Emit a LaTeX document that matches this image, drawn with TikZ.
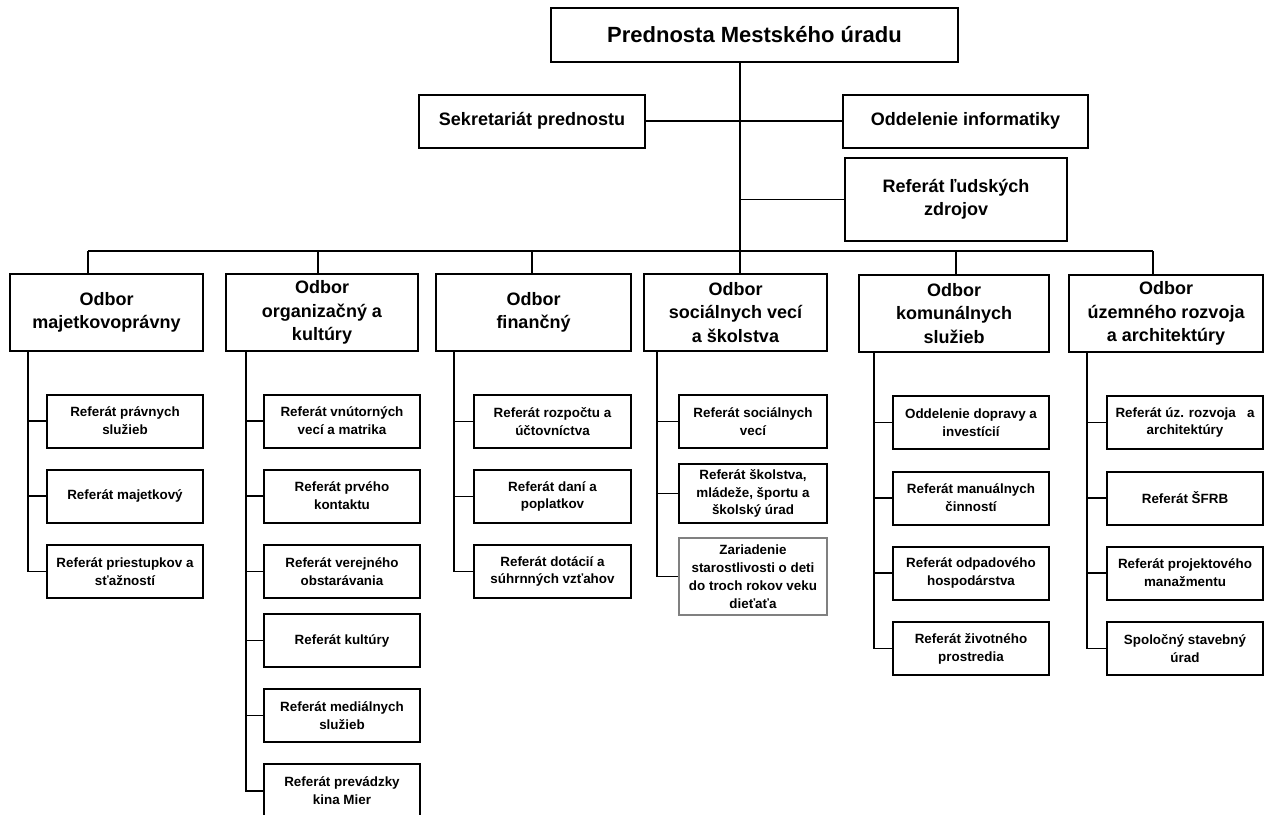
\documentclass[tikz,border=0pt]{standalone}
\usepackage{fontspec}
\setmainfont{Liberation Sans}
\tikzset{
  uzol/.style={draw, line width=1pt, align=center, inner sep=1pt},
  rozmer/.style 2 args={minimum width=#1*0.5pt, minimum height=#2*0.5pt},
  hlavny/.style={uzol, font=\bfseries\fontsize{11}{13}\selectfont},
  stredny/.style={uzol, font=\bfseries\fontsize{9}{11.7}\selectfont},
  odbor/.style={uzol, font=\bfseries\fontsize{9}{11.6}\selectfont},
  referat/.style={uzol, font=\bfseries\fontsize{6.7}{8.9}\selectfont},
  spoj/.style={line width=0.6pt}
}
\begin{document}
\begin{tikzpicture}[x=0.5pt,y=-0.5pt]
\useasboundingbox (0,0) rectangle (1268,814);
% vedenie
\node[hlavny, rozmer={407}{54}] (prednosta) at (754.5,35) {Prednosta Mestského úradu};
\node[stredny, rozmer={226}{53}] (sekretariat) at (532,121) {Sekretariát prednostu};
\node[stredny, rozmer={245}{53}] (informatika) at (965.5,121) {Oddelenie informatiky};
\node[stredny, rozmer={222}{83}] (ludske) at (956,199.5) {Referát ľudských\\zdrojov};
% odbory
\node[odbor, rozmer={193}{77}] (om) at (106.5,312.5) {Odbor\\majetkovoprávny};
\node[odbor, rozmer={192}{77}] (oo) at (322,312.5) {Odbor\\organizačný a\\kultúry};
\node[odbor, rozmer={195}{77}] (of) at (533.5,312.5) {Odbor\\finančný};
\node[odbor, rozmer={183}{77}] (os) at (735.5,312.5) {Odbor\\sociálnych vecí\\a školstva};
\node[odbor, rozmer={190}{77}] (ok) at (954,313.5) {Odbor\\komunálnych\\služieb};
\node[odbor, rozmer={194}{77}] (ou) at (1166,313.5) {Odbor\\územného rozvoja\\a architektúry};
% referaty
\node[referat, rozmer={156}{53}] (om1) at (125,421) {Referát právnych\\služieb};
\node[referat, rozmer={156}{53}] (om2) at (125,496) {Referát majetkový};
\node[referat, rozmer={156}{53}] (om3) at (125,571.5) {Referát priestupkov a\\sťažností};
\node[referat, rozmer={156}{53}] (oo1) at (342,421) {Referát vnútorných\\vecí a matrika};
\node[referat, rozmer={156}{53}] (oo2) at (342,496) {Referát prvého\\kontaktu};
\node[referat, rozmer={156}{53}] (oo3) at (342,571.5) {Referát verejného\\obstarávania};
\node[referat, rozmer={156}{53}] (oo4) at (342,640.5) {Referát kultúry};
\node[referat, rozmer={156}{53}] (oo5) at (342,715.5) {Referát mediálnych\\služieb};
\node[referat, rozmer={156}{54}] (oo6) at (342,791) {Referát prevádzky\\kina Mier};
\node[referat, rozmer={157}{53}] (of1) at (552.5,421.5) {Referát rozpočtu a\\účtovníctva};
\node[referat, rozmer={157}{53}] (of2) at (552.5,496.5) {Referát daní a\\poplatkov};
\node[referat, rozmer={157}{53}] (of3) at (552.5,571.5) {Referát dotácií a\\súhrnných vzťahov};
\node[referat, rozmer={148}{53}] (os1) at (753,421.5) {Referát sociálnych\\vecí};
\node[referat, rozmer={148}{59}] (os2) at (753,493.5) {Referát školstva,\\mládeže, športu a\\školský úrad};
\node[referat, rozmer={148}{77}, draw=gray, line width=0.6pt] (os3) at (753,576.5) {Zariadenie\\starostlivosti o deti\\do troch rokov veku\\dieťaťa};
\node[referat, rozmer={156}{53}] (ok1) at (971,422.5) {Oddelenie dopravy a\\investícií};
\node[referat, rozmer={156}{53}] (ok2) at (971,498) {Referát manuálnych\\činností};
\node[referat, rozmer={156}{53}] (ok3) at (971,573) {Referát odpadového\\hospodárstva};
\node[referat, rozmer={156}{53}] (ok4) at (971,648.5) {Referát životného\\prostredia};
\node[referat, rozmer={156}{53}] (ou1) at (1185,422.5) {Referát úz. rozvoja\ \ \ a\\architektúry};
\node[referat, rozmer={156}{53}] (ou2) at (1185,498) {Referát ŠFRB};
\node[referat, rozmer={156}{53}] (ou3) at (1185,573) {Referát projektového\\manažmentu};
\node[referat, rozmer={156}{53}] (ou4) at (1185,648.5) {Spoločný stavebný\\úrad};
% spoje
\coordinate (kmen) at (740,251);
\coordinate (b1) at (88,251);
\coordinate (b2) at (318,251);
\coordinate (b3) at (532,251);
\coordinate (b5) at (956,251);
\coordinate (b6) at (1153,251);
\coordinate (v1) at (28,0);
\coordinate (v2) at (246,0);
\coordinate (v3) at (454,0);
\coordinate (v4) at (657,0);
\coordinate (v5) at (874,0);
\coordinate (v6) at (1087,0);
\draw[spoj] (prednosta.south -| kmen) -- (kmen);
\draw[spoj] (sekretariat.east) -- (sekretariat.east -| informatika.west);
\draw[spoj] (ludske.west) -- (ludske.west -| kmen);
\draw[spoj] (b1) -- (b6);
\draw[spoj] (b1) -- (b1 |- om.north) (b2) -- (b2 |- oo.north) (b3) -- (b3 |- of.north)
  (kmen) -- (kmen |- os.north) (b5) -- (b5 |- ok.north) (b6) -- (b6 |- ou.north);
\foreach \i in {1,2,3} \draw[spoj] (v1 |- om.south) |- (om\i.west);
\foreach \i in {1,...,6} \draw[spoj] (v2 |- oo.south) |- (oo\i.west);
\foreach \i in {1,2,3} \draw[spoj] (v3 |- of.south) |- (of\i.west);
\foreach \i in {1,2,3} \draw[spoj] (v4 |- os.south) |- (os\i.west);
\foreach \i in {1,...,4} \draw[spoj] (v5 |- ok.south) |- (ok\i.west);
\foreach \i in {1,...,4} \draw[spoj] (v6 |- ou.south) |- (ou\i.west);
\end{tikzpicture}
\end{document}
